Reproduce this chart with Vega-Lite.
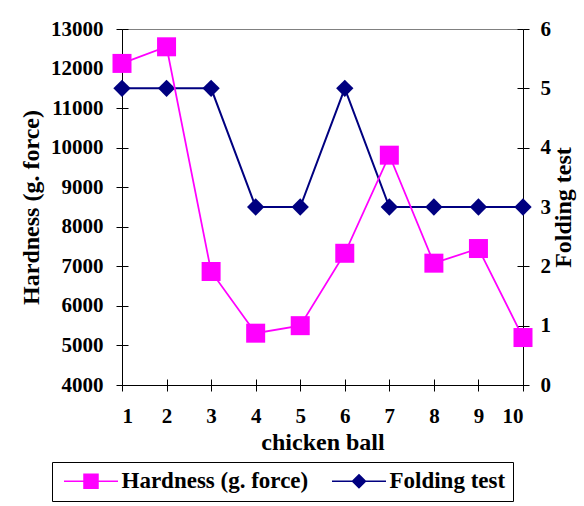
{
  "$schema": "https://vega.github.io/schema/vega-lite/v6.json",
  "width": 401,
  "height": 356,
  "autosize": {"type": "none"},
  "padding": {"left": 122, "top": 29, "right": 61, "bottom": 121},
  "background": "white",
  "config": {
    "view": {"stroke": "#808080", "strokeWidth": 1},
    "font": "Times New Roman, Liberation Serif, serif",
    "axis": {
      "grid": false,
      "labelFont": "Times New Roman, Liberation Serif, serif",
      "labelFontWeight": "bold",
      "labelFontSize": 21,
      "labelColor": "black",
      "titleFont": "Times New Roman, Liberation Serif, serif",
      "titleFontWeight": "bold",
      "titleFontSize": 24,
      "titleColor": "black",
      "domainColor": "black",
      "domainWidth": 1,
      "tickColor": "black",
      "tickWidth": 1,
      "tickSize": 6
    },
    "legend": {
      "labelFont": "Times New Roman, Liberation Serif, serif",
      "labelFontWeight": "bold",
      "labelFontSize": 23,
      "labelColor": "black",
      "labelLimit": 400
    }
  },
  "data": {
    "values": [
      {"ball": 1, "hardness": 12130, "folding": 5},
      {"ball": 2, "hardness": 12550, "folding": 5},
      {"ball": 3, "hardness": 6870, "folding": 5},
      {"ball": 4, "hardness": 5310, "folding": 3},
      {"ball": 5, "hardness": 5500, "folding": 3},
      {"ball": 6, "hardness": 7330, "folding": 5},
      {"ball": 7, "hardness": 9810, "folding": 3},
      {"ball": 8, "hardness": 7080, "folding": 3},
      {"ball": 9, "hardness": 7450, "folding": 3},
      {"ball": 10, "hardness": 5200, "folding": 3}
    ]
  },
  "layer": [
    {
      "encoding": {
        "x": {
          "field": "ball",
          "type": "quantitative",
          "scale": {"domain": [1, 10], "nice": false, "zero": false},
          "axis": null
        },
        "y": {
          "field": "folding",
          "type": "quantitative",
          "scale": {"domain": [0, 6], "nice": false},
          "axis": {
            "orient": "right",
            "title": "Folding test",
            "values": [0, 1, 2, 3, 4, 5, 6],
            "labelPadding": 11,
            "titleAngle": 270,
            "titleBaseline": "top",
            "titlePadding": 1
          }
        },
        "color": {
          "datum": "Folding test",
          "type": "nominal",
          "scale": {
            "domain": ["Hardness (g. force)", "Folding test"],
            "range": ["#FF00FF", "#000080"]
          },
          "legend": {
            "title": null,
            "orient": "none",
            "direction": "horizontal",
            "legendX": -70,
            "legendY": 433,
            "strokeColor": "black",
            "padding": 7.5,
            "symbolSize": 196,
            "symbolStrokeWidth": 1.5,
            "labelOffset": 39,
            "columnPadding": 19,
            "encode": {
              "symbols": {
                "update": {
                  "shape": {"signal": "datum.value === 'Folding test' ? 'M-1,0H6.714M2.857,-0.93L3.787,0L2.857,0.93L1.927,0Z' : 'M-1,0H6.714M1.857,-1H3.857V1H1.857Z'"},
                  "fill": {"signal": "scale('color', datum.value)"},
                  "stroke": {"signal": "scale('color', datum.value)"},
                  "strokeWidth": {"value": 1.5},
                  "opacity": {"value": 1}
                }
              }
            }
          }
        }
      },
      "layer": [
        {"mark": {"type": "line", "strokeWidth": 2}},
        {"mark": {"type": "point", "shape": "diamond", "filled": true, "size": 300, "opacity": 1}}
      ]
    },
    {
      "encoding": {
        "x": {
          "field": "ball",
          "type": "quantitative",
          "axis": {
            "orient": "bottom",
            "title": "chicken ball",
            "values": [1, 2, 3, 4, 5, 6, 7, 8, 9, 10],
            "labelPadding": 14,
            "titlePadding": 4
          }
        },
        "y": {
          "field": "hardness",
          "type": "quantitative",
          "scale": {"domain": [4000, 13000], "nice": false, "zero": false},
          "axis": {
            "orient": "left",
            "title": "Hardness (g. force)",
            "values": [4000, 5000, 6000, 7000, 8000, 9000, 10000, 11000, 12000, 13000],
            "format": "d",
            "labelPadding": 13,
            "titlePadding": 7
          }
        },
        "color": {"datum": "Hardness (g. force)", "type": "nominal"}
      },
      "layer": [
        {"mark": {"type": "line", "strokeWidth": 1.75}},
        {"mark": {"type": "point", "shape": "square", "filled": true, "size": 361, "opacity": 1}}
      ]
    },
    {
      "mark": {"type": "point", "opacity": 0},
      "encoding": {
        "x": {
          "field": "ball",
          "type": "quantitative",
          "axis": {
            "orient": "bottom",
            "title": null,
            "labels": false,
            "domain": false,
            "tickSize": -6,
            "values": [1, 2, 3, 4, 5, 6, 7, 8, 9, 10]
          }
        },
        "y": {
          "field": "hardness",
          "type": "quantitative",
          "scale": {"domain": [4000, 13000], "nice": false, "zero": false},
          "axis": {
            "orient": "left",
            "title": null,
            "labels": false,
            "domain": false,
            "tickSize": -6,
            "values": [4000, 5000, 6000, 7000, 8000, 9000, 10000, 11000, 12000, 13000]
          }
        }
      }
    },
    {
      "mark": {"type": "point", "opacity": 0},
      "encoding": {
        "x": {"field": "ball", "type": "quantitative", "axis": null},
        "y": {
          "field": "folding",
          "type": "quantitative",
          "scale": {"domain": [0, 6], "nice": false},
          "axis": {
            "orient": "right",
            "title": null,
            "labels": false,
            "domain": false,
            "tickSize": -6,
            "values": [0, 1, 2, 3, 4, 5, 6]
          }
        }
      }
    }
  ],
  "resolve": {
    "scale": {"y": "independent"},
    "axis": {"x": "independent", "y": "independent"}
  }
}
